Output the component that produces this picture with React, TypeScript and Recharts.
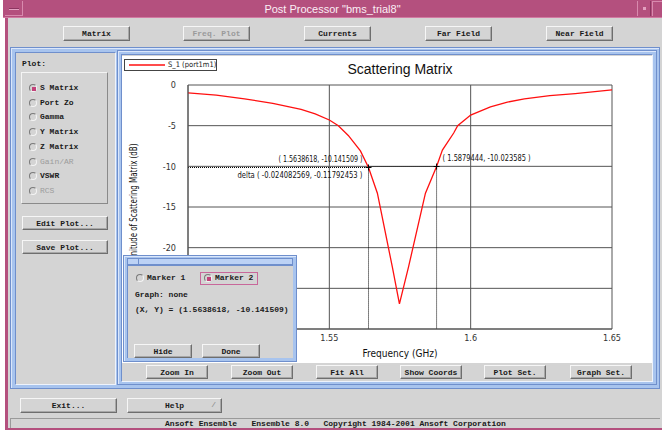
import React from 'react';
import { LineChart, Line, XAxis, YAxis, CartesianGrid, ReferenceLine, ReferenceDot } from 'recharts';

// ---- data ----
const freqGHz = [1.5, 1.51, 1.52, 1.53, 1.54, 1.545, 1.55, 1.5532, 1.5567, 1.561, 1.5638618, 1.567, 1.5723, 1.5748, 1.578, 1.584, 1.5879444, 1.59, 1.594, 1.5954, 1.6, 1.607, 1.613, 1.619, 1.628, 1.637, 1.65];
const s11dB = [-0.97, -1.25, -1.7, -2.25, -3.0, -3.55, -4.3, -5.0, -6.2, -8.1, -10.141509, -13.3, -22.4, -26.9, -22.4, -13.3, -10.023585, -8.0, -5.9, -5.0, -3.7, -2.7, -2.1, -1.7, -1.3, -1.05, -0.6];
const xTicks = [1.5, 1.55, 1.6, 1.65];
const yTicks = [-30, -25, -20, -15, -10, -5, 0];
// tick labels that sit behind the marker dialog in the reference
const hiddenXTicks = [1.5];
const hiddenYTicks = [-30, -25];
const markerFreq = [1.5638618, 1.5879444];
const markerDb = [-10.141509, -10.023585];
const markerLabels = ['( 1.5638618, -10.141509 )', '( 1.5879444, -10.023585 )'];
const deltaLabel = 'delta ( -0.024082569, -0.11792453 )';
const seriesName = 'S_1 (port1m1)';
const topButtons = ['Matrix', 'Freq. Plot', 'Currents', 'Far Field', 'Near Field'];
const plotOptions = ['S Matrix', 'Port Zo', 'Gamma', 'Y Matrix', 'Z Matrix', 'Gain/AR', 'VSWR', 'RCS'];
const disabledOptions = ['Gain/AR', 'RCS'];
const chartButtons = ['Zoom In', 'Zoom Out', 'Fit All', 'Show Coords', 'Plot Set.', 'Graph Set.'];

const data = freqGHz.map((f, i) => ({ f, s: s11dB[i] }));

const MONO = '"Liberation Mono", "DejaVu Sans Mono", monospace';
const NARROW = '"Liberation Sans Narrow", "DejaVu Sans Condensed", "Liberation Sans", Arial, sans-serif';
const SANS = '"Liberation Sans", Arial, sans-serif';
const GRAY = '#d4d4d4';
const PINK = '#b4507e';
const BLUE = '#a8c4ee';
const RED = '#ff1010';

const abs = (l: number, t: number, w: number, h: number, extra: any = {}) => ({
  position: 'absolute' as const, left: l, top: t, width: w, height: h, boxSizing: 'border-box' as const, ...extra,
});

function Btn({ x, y, w, h = 14, label, disabled, right }: any) {
  return (
    <div style={abs(x, y, w, h, {
      background: GRAY,
      borderTop: '1px solid #f6f6f6', borderLeft: '1px solid #f6f6f6',
      borderRight: '1px solid #6e6e6e', borderBottom: '1px solid #6e6e6e',
      boxShadow: 'inset -1px -1px 0 #a8a8a8',
      display: 'flex', alignItems: 'center', justifyContent: 'center',
      font: `bold 8px ${MONO}`, color: disabled ? '#9a9a9a' : '#1a1a1a', whiteSpace: 'pre',
    })}>
      {label}
      {right ? <span style={{ position: 'absolute', right: 5, top: 1, color: '#888', fontWeight: 'normal' }}>{right}</span> : null}
    </div>
  );
}

function Radio({ x, y, on }: any) {
  return (
    <div style={abs(x, y, 8, 8, {
      borderRadius: '50%', borderTop: '1px solid #7a7a7a', borderLeft: '1px solid #7a7a7a',
      borderRight: '1px solid #f4f4f4', borderBottom: '1px solid #f4f4f4', background: GRAY,
    })}>
      {on ? <div style={abs(1.5, 1.5, 4, 4, { background: '#c2427a' })} /> : null}
    </div>
  );
}

const Cross = (label: string, side: 'left' | 'right') => (p: any) => {
  const { cx, cy } = p;
  return (
    <g>
      <path d={`M${cx - 3},${cy}H${cx + 3}M${cx},${cy - 3}V${cy + 3}`} stroke="#000" strokeWidth={1} />
      {side === 'left' ? (
        <>
          <text x={cx - 6} y={cy - 5} textAnchor="end" fontSize={8} fontFamily={NARROW} fill="#111" textLength={84} lengthAdjust="spacingAndGlyphs">{label}</text>
          <text x={cx - 6} y={cy + 11} textAnchor="end" fontSize={8} fontFamily={NARROW} fill="#111" textLength={125} lengthAdjust="spacingAndGlyphs">{deltaLabel}</text>
        </>
      ) : (
        <text x={cx + 6} y={cy - 6} textAnchor="start" fontSize={8} fontFamily={NARROW} fill="#111" textLength={88} lengthAdjust="spacingAndGlyphs">{label}</text>
      )}
    </g>
  );
};

const XTick = (p: any) => {
  const v = p.payload.value;
  if (hiddenXTicks.includes(v)) return null;
  return <text x={p.x} y={p.y + 4} dy="0.71em" textAnchor="middle" fontSize={9} fontFamily={NARROW} fill="#333">{String(v)}</text>;
};
const YTick = (p: any) => {
  const v = p.payload.value;
  if (hiddenYTicks.includes(v)) return null;
  return <text x={p.x - 10} y={p.y} dy="0.355em" textAnchor="end" fontSize={9} fontFamily={NARROW} fill="#333">{String(v)}</text>;
};

export default function App() {
  const btnXs = [63, 183, 304, 425, 546];
  const chartBtnXs = [146, 231, 316, 400, 484, 570];
  return (
    <div style={abs(0, 0, 662, 430, { background: '#ffffff', overflow: 'hidden', fontFamily: SANS })}>
      {/* window body */}
      <div style={abs(5, 0, 657, 430, { background: GRAY, borderLeft: `3px solid ${PINK}`, borderBottom: `2px solid ${PINK}` })} />
      {/* title bar */}
      <div style={abs(3, 0, 659, 18, { background: PINK, borderBottom: '1px solid #d27ba3' })}>
        <div style={abs(2, 1, 18, 15, { borderRight: '1px solid #d88aae', borderBottom: '1px solid #d88aae' })}>
          <div style={abs(4, 7, 10, 2, { background: '#e3a0c0', borderTop: '1px solid #8c3560' })} />
        </div>
        <div style={abs(0, 0, 659, 18, { color: '#fbeef5', fontSize: 11, lineHeight: '18px', textAlign: 'center', fontFamily: SANS })}>
          Post Processor "bms_trial8"
        </div>
        <div style={abs(634, 1, 14, 15, { borderLeft: '1px solid #d88aae', borderRight: '1px solid #8c3560' })}>
          <div style={abs(5, 6, 3, 3, { background: '#e3a0c0' })} />
        </div>
        <div style={abs(649, 1, 10, 15, { borderLeft: '1px solid #d88aae', borderTop: '1px solid #d88aae' })} />
      </div>

      {topButtons.map((b, i) => (
        <Btn key={b} x={btnXs[i]} y={26} w={67} h={15} label={b} disabled={b === 'Freq. Plot'} />
      ))}

      {/* outer blue frame */}
      <div style={abs(10, 47, 650, 342, { background: BLUE, border: '1px solid #6f8fcc', boxShadow: 'inset 1px 1px 0 #dbe7fb' })} />
      {/* sidebar */}
      <div style={abs(15, 52, 101, 333, { background: GRAY, borderTop: '1px solid #6f8fcc', borderLeft: '1px solid #6f8fcc', borderRight: '1px solid #eef3fc', borderBottom: '1px solid #eef3fc' })} />
      <div style={abs(22, 58, 40, 12, { font: `bold 8px ${MONO}`, color: '#1a1a1a', lineHeight: '12px' })}>Plot:</div>
      <div style={abs(21, 72, 87, 132, { borderTop: '1px solid #f4f4f4', borderLeft: '1px solid #f4f4f4', borderRight: '1px solid #8a8a8a', borderBottom: '1px solid #8a8a8a' })} />
      {plotOptions.map((o, i) => {
        const cy = 88 + i * 14.7;
        const dis = disabledOptions.includes(o);
        return (
          <React.Fragment key={o}>
            <Radio x={29} y={cy - 4} on={i === 0} />
            <div style={abs(40, cy - 6, 66, 12, { font: `bold 8px ${MONO}`, lineHeight: '12px', color: dis ? '#9c9c9c' : '#1a1a1a', fontWeight: dis ? 'normal' : 'bold' })}>{o}</div>
          </React.Fragment>
        );
      })}
      <Btn x={22} y={216} w={86} h={14} label="Edit Plot..." />
      <Btn x={22} y={240} w={86} h={14} label="Save Plot..." />

      {/* chart panel */}
      <div style={abs(117, 50, 540, 335, { background: BLUE, border: '1px solid #6f8fcc', boxShadow: 'inset 1px 1px 0 #dbe7fb' })} />
      <div style={abs(121, 54, 532, 328, { background: GRAY, borderTop: '1px solid #6f8fcc', borderLeft: '1px solid #6f8fcc', borderRight: '1px solid #eef3fc', borderBottom: '1px solid #eef3fc' })} />
      <div style={abs(122, 56, 530, 307, { background: '#ffffff' })}>
        <LineChart width={530} height={307} data={data} margin={{ top: 29, right: 40, left: 0, bottom: 0 }}>
          <CartesianGrid stroke="#555" strokeWidth={1} />
          <XAxis
            dataKey="f" type="number" domain={[1.5, 1.65]} ticks={xTicks} allowDataOverflow
            height={34} tickLine={false} tickSize={0}
            axisLine={{ stroke: '#555' }}
            tick={<XTick />}
            label={{
              content: (p: any) => {
                const vb = p.viewBox || { x: 66, y: 273, width: 424, height: 34 };
                return <text x={vb.x + vb.width / 2} y={vb.y + 28} textAnchor="middle" fontSize={11} fontFamily={NARROW} fill="#111" textLength={75} lengthAdjust="spacingAndGlyphs">Frequency (GHz)</text>;
              },
            }}
          />
          <YAxis
            type="number" domain={[-30, 0]} ticks={yTicks} allowDataOverflow
            width={66} tickLine={false} tickSize={0}
            axisLine={{ stroke: '#555' }}
            tick={<YTick />}
            label={{
              content: (p: any) => {
                const vb = p.viewBox || { x: 0, y: 29, width: 66, height: 244 };
                const x = vb.x + 15;
                const y = vb.y + vb.height / 2;
                return <text x={x} y={y} transform={`rotate(-90 ${x} ${y})`} textAnchor="middle" fontSize={10} fontFamily={NARROW} fill="#111" textLength={127} lengthAdjust="spacingAndGlyphs">Magnitude of Scattering Matrix (dB)</text>;
              },
            }}
          />
          <ReferenceLine segment={[{ x: 1.5, y: markerDb[0] }, { x: markerFreq[0], y: markerDb[0] }]} stroke="#000" strokeDasharray="1 1" />
          <ReferenceLine segment={[{ x: markerFreq[0], y: markerDb[1] }, { x: markerFreq[1], y: markerDb[1] }]} stroke="#000" strokeDasharray="1 1" />
          <ReferenceLine segment={[{ x: markerFreq[0], y: markerDb[0] }, { x: markerFreq[0], y: -30 }]} stroke="#000" strokeDasharray="1 1" />
          <ReferenceLine segment={[{ x: markerFreq[1], y: markerDb[1] }, { x: markerFreq[1], y: -30 }]} stroke="#000" strokeDasharray="1 1" />
          <Line type="linear" dataKey="s" stroke={RED} strokeWidth={1.3} dot={false} isAnimationActive={false} />
          <ReferenceDot x={markerFreq[0]} y={markerDb[0]} shape={Cross(markerLabels[0], 'left')} />
          <ReferenceDot x={markerFreq[1]} y={markerDb[1]} shape={Cross(markerLabels[1], 'right')} />
        </LineChart>
        {/* legend */}
        <div style={abs(2, 3, 93, 12, { border: '1px solid #444', background: '#fff' })}>
          <svg width={40} height={10} style={{ position: 'absolute', left: 2, top: 0 }}>
            <line x1={2} y1={5} x2={38} y2={5} stroke={RED} strokeWidth={1.3} />
          </svg>
          <div style={abs(43, 0, 50, 10, { fontSize: 7.5, lineHeight: '10px', fontFamily: NARROW, color: '#222', whiteSpace: 'nowrap' })}>{seriesName}</div>
        </div>
        {/* title */}
        <div style={abs(178, 4, 200, 18, { fontSize: 14, lineHeight: '18px', textAlign: 'center', fontFamily: SANS, color: '#111' })}>Scattering Matrix</div>
      </div>
      {chartButtons.map((b, i) => (
        <Btn key={b} x={chartBtnXs[i]} y={365} w={62} h={14} label={b} />
      ))}

      {/* marker dialog */}
      <div style={abs(123, 255, 174, 107, { background: BLUE, border: '1px solid #6f8fcc', boxShadow: 'inset 1px 1px 0 #dbe7fb' })} />
      <div style={abs(127, 258, 166, 7, { background: '#bcd2f5', border: '1px solid #6f8fcc' })}>
        <div style={abs(10, 0, 1, 5, { background: '#6f8fcc' })} />
      </div>
      <div style={abs(127, 265, 166, 93, { background: GRAY, borderTop: '1px solid #6f8fcc', borderLeft: '1px solid #6f8fcc' })} />
      <Radio x={136} y={274} on={false} />
      <div style={abs(147, 272, 50, 12, { font: `bold 8px ${MONO}`, lineHeight: '12px', color: '#1a1a1a' })}>Marker 1</div>
      <div style={abs(200, 272, 58, 13, { border: '1px solid #c8679a' })} />
      <Radio x={204} y={274} on={true} />
      <div style={abs(215, 272, 44, 12, { font: `bold 8px ${MONO}`, lineHeight: '12px', color: '#1a1a1a' })}>Marker 2</div>
      <div style={abs(135, 289, 100, 12, { font: `bold 8px ${MONO}`, lineHeight: '12px', color: '#1a1a1a' })}>Graph: none</div>
      <div style={abs(135, 304, 160, 12, { font: `bold 8px ${MONO}`, lineHeight: '12px', color: '#1a1a1a', whiteSpace: 'pre' })}>(X, Y) = (1.5638618, -10.141509)</div>
      <Btn x={134} y={344} w={58} h={14} label="Hide" />
      <Btn x={202} y={344} w={58} h={14} label="Done" />

      {/* bottom */}
      <Btn x={20} y={398} w={97} h={15} label="Exit..." />
      <Btn x={127} y={398} w={95} h={15} label="Help" right="/" />
      <div style={abs(10, 418, 650, 10, { borderTop: '1px solid #9a9a9a', borderLeft: '1px solid #9a9a9a', font: `bold 8px ${MONO}`, lineHeight: '9px', textAlign: 'center', color: '#1a1a1a', whiteSpace: 'pre' })}>
        {'Ansoft Ensemble   Ensemble 8.0   Copyright 1984-2001 Ansoft Corporation'}
      </div>
    </div>
  );
}
